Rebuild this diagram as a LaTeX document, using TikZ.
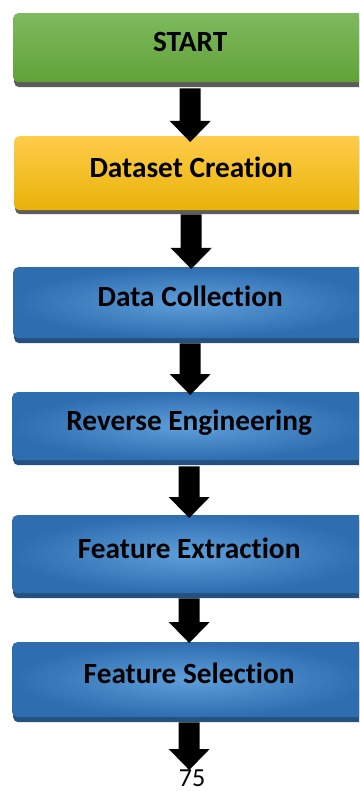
\documentclass[tikz,border=0pt]{standalone}
\usepackage{fontspec}
\setmainfont{Carlito}[Ligatures=NoCommon]
\usetikzlibrary{calc}

\definecolor{greentop}{HTML}{7EBA5E}
\definecolor{greenbot}{HTML}{61A238}
\definecolor{yeltop}{HTML}{FFCC4A}
\definecolor{yelmid}{HTML}{FFC000}
\definecolor{yelbot}{HTML}{E8B308}
\definecolor{bluein}{HTML}{5E9EDA}
\definecolor{blueout}{HTML}{2E6EB0}
\definecolor{blueshade}{HTML}{24517F}
\definecolor{grayshade}{HTML}{5C5C5C}

\begin{document}
\begin{tikzpicture}[x=1pt,y=-1pt,
  stepbox/.style={rectangle, rounded corners=5pt, anchor=north west,
    minimum width=354pt, inner sep=0pt,
    font=\bfseries\fontsize{29.3}{31}\selectfont,
    text height=20pt, text depth=12pt},
  greenbox/.style={stepbox, top color=greentop, bottom color=greenbot,
    preaction={fill=grayshade, transform canvas={xshift=1pt,yshift=-5pt}}},
  yellowbox/.style={stepbox, top color=yeltop, middle color=yelmid, bottom color=yelbot,
    preaction={fill=grayshade, transform canvas={xshift=1pt,yshift=-4pt}}},
  bluebox/.style={stepbox, inner color=bluein, outer color=blueout,
    preaction={fill=blueshade, transform canvas={xshift=1pt,yshift=-5pt}}},
  % block arrow: 21pt wide shaft, 41pt wide and 21pt long head, pointing down
  blockarrow/.style={fill=black, to path={
    let \p1=(\tikztostart), \p2=(\tikztotarget) in
    (\x1-10.5pt,\y1) -- (\x1+10.5pt,\y1) -- (\x1+10.5pt,\y2+21pt)
    -- (\x1+20.5pt,\y2+21pt) -- (\x1,\y2) -- (\x1-20.5pt,\y2+21pt)
    -- (\x1-10.5pt,\y2+21pt) -- cycle}}
]
\useasboundingbox (0,0) rectangle (359,791);
\clip (0,0) rectangle (359,791);

% process steps
\node[greenbox,  minimum height=69pt] (s1) at (13,13)  {START};
\node[yellowbox, minimum height=74pt] (s2) at (14,136) {Dataset Creation};
\node[bluebox,   minimum height=71pt] (s3) at (13,267) {Data Collection};
\node[bluebox,   minimum height=68pt] (s4) at (12,392) {Reverse Engineering};
\node[bluebox,   minimum height=78pt] (s5) at (12,515) {Feature Extraction};
\node[bluebox,   minimum height=75pt] (s6) at (12,642) {Feature Selection};

% page number
\node[anchor=north, inner sep=0pt, font=\fontsize{26}{28}\selectfont] (pg) at (192,770) {75};

% block arrows between the steps
\path[blockarrow] ([yshift=-6pt]s1.south) to ([yshift=-6pt]s2.north);
\path[blockarrow] ([yshift=-4pt]s2.south) to ([yshift=-2pt]s3.north);
\path[blockarrow] ([yshift=-5pt]s3.south) to ([yshift=-3pt]s4.north);
\path[blockarrow] ([yshift=-6pt]s4.south) to ([yshift=-3pt]s5.north);
\path[blockarrow] ([yshift=-5pt]s5.south) to ([yshift=-1pt]s6.north);
\coordinate (tipend) at (191,770);
\path[blockarrow] ([yshift=-5pt]s6.south) to (tipend);
\end{tikzpicture}
\end{document}
